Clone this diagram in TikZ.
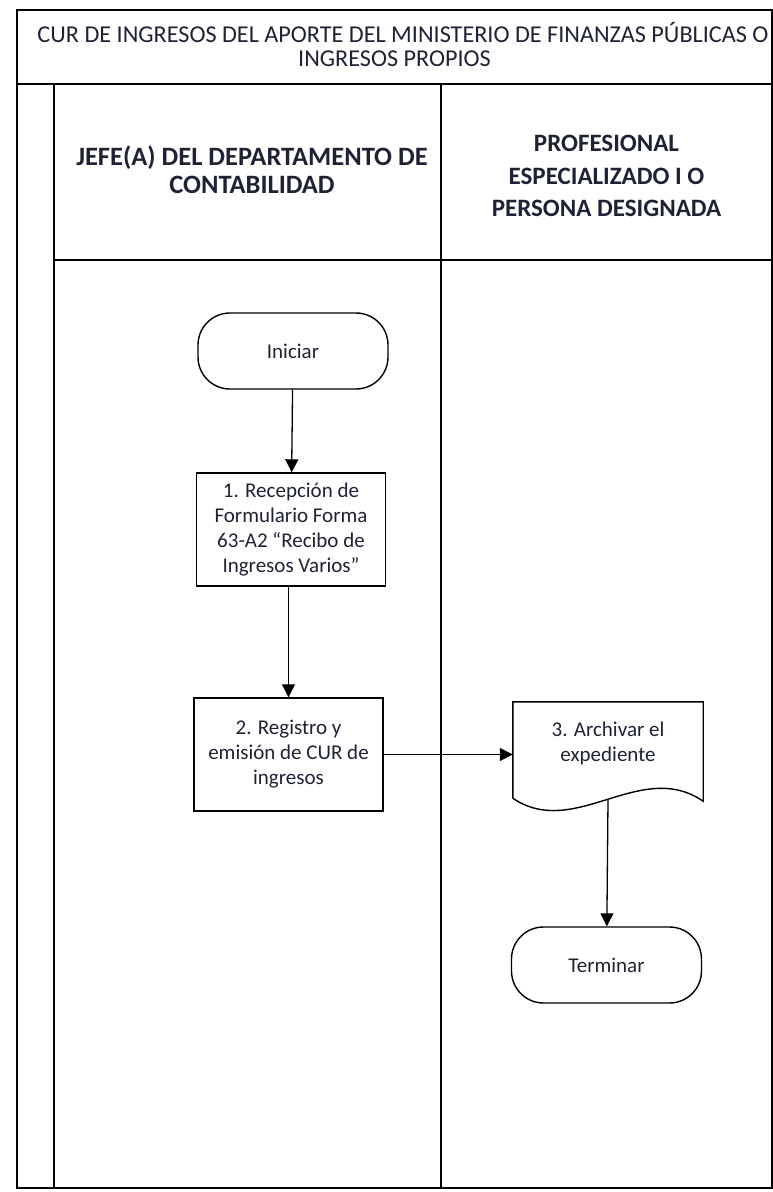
\documentclass[tikz,border=0pt]{standalone}
\usepackage{fontspec}
\setmainfont{Carlito}
\usetikzlibrary{positioning,arrows.meta,calc}
\definecolor{inktext}{RGB}{30,34,52}

\begin{document}
\begin{tikzpicture}[
x=1pt, y=-1pt,
>={Triangle[length=13pt,width=13pt]},
every node/.style={font=\fontsize{21}{25}\selectfont, text=inktext},
box/.style={
draw,
line width=1.4pt,
align=center,
minimum width=189pt,
minimum height=113pt,
inner sep=2pt
},
terminal/.style={draw, line width=1.4pt, rounded corners=32pt, minimum width=190pt, minimum height=76pt},
lanehead/.style={font=\bfseries\fontsize{26.5}{28}\selectfont, align=center},
frame/.style={line width=1.5pt},
arrow/.style={->, line width=1.3pt}
]
\useasboundingbox (0,0) rectangle (773,1192);

% Frame and lanes
\draw[frame] (17,10) rectangle (772,1188);
\draw[frame] (17,84) -- (772,84);
\draw[frame] (54,84) -- (54,1188);
\draw[frame] (441,84) -- (441,1188);
\draw[frame] (54,260) -- (772,260);

% Title
\node[align=center, font=\fontsize{24.2}{24}\selectfont] (title) at (403,44)
{CUR DE INGRESOS DEL APORTE DEL MINISTERIO DE FINANZAS PÚBLICAS O\\INGRESOS PROPIOS\hspace*{17pt}};

% Lane headers
\node[lanehead] (jefe) at (252,170) {JEFE(A) DEL DEPARTAMENTO DE\\CONTABILIDAD};
\node[lanehead, font=\bfseries\fontsize{25}{32.5}\selectfont] (prof) at (606.5,176)
{PROFESIONAL\\ESPECIALIZADO I O\\PERSONA DESIGNADA};

% Start
\node[terminal] (start) at (293,351) {Iniciar};

% Step 1
\node[box] (recep) at (291,529.5)
{1. Recepción de\\Formulario Forma\\63-A2 “Recibo de\\Ingresos Varios”};

% Step 2
\node[box] (registro) at (288.5,754.5)
{2. Registro y\\emisión de CUR de\\ingresos};

% Step 3 (document)
\node[align=center, minimum width=190pt, minimum height=83pt, inner sep=0pt] (archivo) at (608,743.5)
{3. Archivar el\\expediente};
\draw[line width=1.4pt] ($(archivo.south west)+(0,13)$) -- (archivo.north west)
-- (archivo.north east) -- ($(archivo.south east)+(0,16)$)
.. controls ($(archivo.south east)+(-63,-27)$) and ($(archivo.south west)+(62,55)$) .. ($(archivo.south west)+(0,13)$);
\coordinate (archivoout) at ($(archivo.south)+(0,15)$);

% End
\node[terminal] (fin) at (606.5,965) {Terminar};

% Arrows
\draw[arrow] (start)--(recep);
\draw[arrow] (recep.south -| registro.north)--(registro.north);
\draw[arrow] (registro.east)--(registro.east -| archivo.west);
\draw[arrow] (archivoout)--(fin);

\end{tikzpicture}
\end{document}
